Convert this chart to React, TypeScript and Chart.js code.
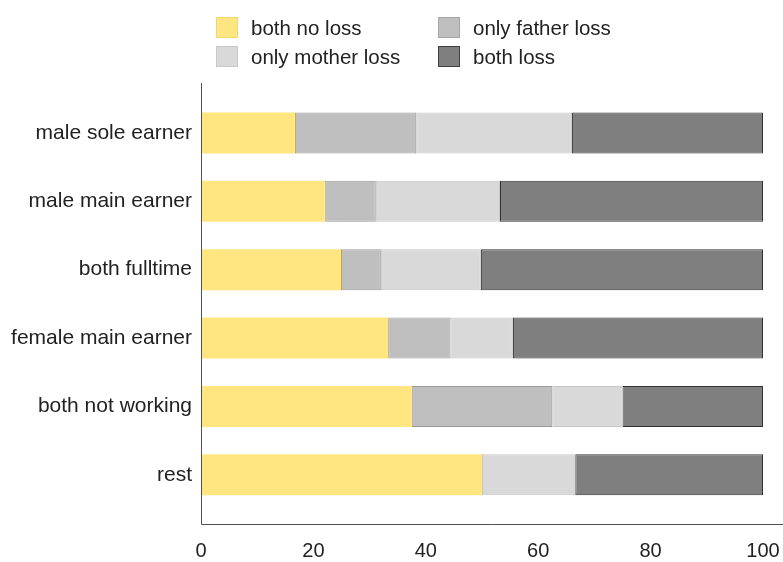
import React, { useEffect, useRef } from "react";
import { Chart, registerables } from "chart.js";

Chart.register(...registerables);

const categories = [
  "male sole earner",
  "male main earner",
  "both fulltime",
  "female main earner",
  "both not working",
  "rest",
];
const seriesNames = ["both no loss", "only father loss", "only mother loss", "both loss"];
const bothNoLoss = [16.7, 22.0, 24.9, 33.3, 37.5, 50.0];
const onlyFatherLoss = [21.6, 9.1, 7.1, 11.1, 25.0, 0];
const onlyMotherLoss = [27.7, 22.1, 17.8, 11.1, 12.5, 16.6];
const bothLoss = [34.0, 46.8, 50.2, 44.5, 25.0, 33.4];
const xTicks = [0, 20, 40, 60, 80, 100];

const fills = ["#FFE680", "#BFBFBF", "#D9D9D9", "#7F7F7F"];
const borders = ["#FFE680", "#999999", "#C6C6C6", "#333333"];
const legendBorders = ["#F0D870", "#A6A6A6", "#C8C8C8", "#404040"];

const FONT = "'Liberation Sans', Arial, sans-serif";
const TEXT = "#222222";

export default function App() {
  const ref = useRef<HTMLCanvasElement | null>(null);

  useEffect(() => {
    document.body.style.margin = "0";
    const series = [bothNoLoss, onlyFatherLoss, onlyMotherLoss, bothLoss];
    const axisPlugin = {
      id: "axisLines",
      afterDatasetsDraw(chart: any) {
        const { ctx, chartArea } = chart;
        ctx.save();
        ctx.strokeStyle = "#505050";
        ctx.lineWidth = 1;
        ctx.beginPath();
        ctx.moveTo(chartArea.left + 0.5, chartArea.top);
        ctx.lineTo(chartArea.left + 0.5, chartArea.bottom + 0.5);
        ctx.lineTo(chart.width, chartArea.bottom + 0.5);
        ctx.stroke();
        ctx.restore();
      },
    };
    const chart = new Chart(ref.current as HTMLCanvasElement, {
      type: "bar",
      data: {
        datasets: series.map((vals, s) => ({
          label: seriesNames[s],
          data: vals.map((v, i) => ({ x: v, y: i })),
          backgroundColor: fills[s],
          borderColor: borders[s],
          borderWidth: s === 0 ? 0 : 1,
          borderSkipped: false,
          barPercentage: 0.6,
          categoryPercentage: 1,
        })),
      },
      options: {
        indexAxis: "y",
        animation: false,
        responsive: false,
        maintainAspectRatio: false,
        layout: { padding: { top: 83, right: 20, left: 0, bottom: 0 } },
        plugins: { legend: { display: false }, tooltip: { enabled: false } },
        scales: {
          x: {
            type: "linear",
            min: 0,
            max: 100,
            stacked: true,
            afterBuildTicks: (axis: any) => {
              axis.ticks = xTicks.map((v) => ({ value: v }));
            },
            grid: { display: false, drawTicks: false },
            border: { display: false },
            ticks: { color: TEXT, font: { family: FONT, size: 20 }, padding: 15 },
            afterFit: (s: any) => {
              s.height = 38;
              s.paddingLeft = 0;
              s.paddingRight = 0;
            },
          },
          y: {
            type: "linear",
            offset: false,
            min: -0.73,
            max: 5.72,
            reverse: true,
            stacked: true,
            afterBuildTicks: (axis: any) => {
              axis.ticks = categories.map((_, i) => ({ value: i }));
            },
            grid: { display: false, drawTicks: false },
            border: { display: false },
            ticks: {
              color: TEXT,
              font: { family: FONT, size: 21 },
              padding: 9,
              callback: (v: any) => categories[v as number] ?? "",
            },
            afterFit: (s: any) => {
              s.width = 201;
              s.paddingTop = 0;
              s.paddingBottom = 0;
            },
          },
        },
      },
      plugins: [axisPlugin],
    } as any);
    return () => chart.destroy();
  }, []);

  const legendPos = [
    { left: 216, top: 17 },
    { left: 438, top: 17 },
    { left: 216, top: 46 },
    { left: 438, top: 46 },
  ];
  const legendOrder = [0, 1, 2, 3];

  return (
    <div style={{ position: "relative", width: 783, height: 562 }}>
      <canvas ref={ref} width={783} height={562} style={{ display: "block", width: 783, height: 562 }} />
      {legendOrder.map((s, k) => (
        <div
          key={s}
          style={{
            position: "absolute",
            left: legendPos[k].left,
            top: legendPos[k].top,
            height: 21,
            display: "flex",
            alignItems: "center",
            fontFamily: FONT,
            fontSize: 20.5,
            color: TEXT,
            whiteSpace: "nowrap",
          }}
        >
          <span
            style={{
              display: "inline-block",
              width: 20,
              height: 19,
              background: fills[s],
              border: `1px solid ${legendBorders[s]}`,
              marginRight: 13,
            }}
          />
          <span>{seriesNames[s]}</span>
        </div>
      ))}
    </div>
  );
}
